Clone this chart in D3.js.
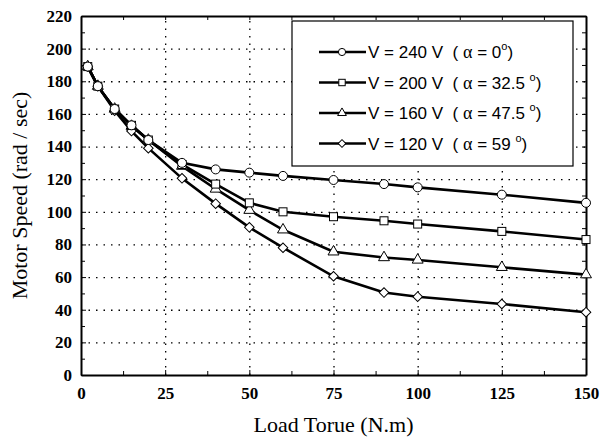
<!DOCTYPE html>
<html>
<head>
<meta charset="utf-8">
<script src="https://cdn.jsdelivr.net/npm/d3@7"></script>
<style>
  body { margin: 0; background: #fff; }
  svg { display: block; }
</style>
</head>
<body>
<svg id="chart"></svg>
<script>
// Load torque (N.m)
const torque = [2, 5, 10, 15, 20, 30, 40, 50, 60, 75, 90, 100, 125, 150];

// Motor speed (rad/sec) for each supply voltage
const speed240 = [189, 177, 163, 153, 144, 130, 126, 124, 122, 119.5, 117, 115, 110.5, 105.5];
const speed200 = [189, 177, 163, 153, 144, 129, 117, 105.5, 100, 97, 94.5, 92.5, 88, 83];
const speed160 = [189, 177, 163, 152.5, 144, 128, 114, 101, 89, 75.5, 72, 70.5, 66, 61.5];
const speed120 = [189, 177, 162, 149.5, 139, 120.5, 105, 90.5, 78, 60.5, 50.5, 48, 43.5, 38.5];

const voltLabels = ["V = 240 V", "V = 200 V", "V = 160 V", "V = 120 V"];
const alphaLabels = ["0", "32.5 ", "47.5 ", "59 "];

const xTicks = [0, 25, 50, 75, 100, 125, 150];
const yTicks = [0, 20, 40, 60, 80, 100, 120, 140, 160, 180, 200, 220];

const width = 600, height = 438;
const margin = { top: 16, right: 14, bottom: 63, left: 81 };
const w = width - margin.left - margin.right;
const h = height - margin.top - margin.bottom;

const svg = d3.select("#chart").attr("width", width).attr("height", height);
const chart = svg.append("g").attr("transform", `translate(${margin.left},${margin.top})`);

const x = d3.scaleLinear().domain([0, 150]).range([0, w]);
const y = d3.scaleLinear().domain([0, 220]).range([h, 0]);

const series = [
  { values: speed240, shape: "circle" },
  { values: speed200, shape: "square" },
  { values: speed160, shape: "triangle" },
  { values: speed120, shape: "diamond" }
].map((s, i) => ({ ...s, volt: voltLabels[i], alpha: alphaLabels[i] }));

// dotted grid
chart.append("g")
  .attr("transform", `translate(0,${h})`)
  .call(d3.axisBottom(x).tickValues(xTicks.slice(1, -1)).tickSize(-h).tickFormat(""))
  .call(g => g.select(".domain").remove())
  .selectAll("line").attr("stroke", "#000").attr("stroke-width", 1.3).attr("stroke-dasharray", "1.5,6");

chart.append("g")
  .call(d3.axisLeft(y).tickValues(yTicks.slice(1, -1)).tickSize(-w).tickFormat(""))
  .call(g => g.select(".domain").remove())
  .selectAll("line").attr("stroke", "#000").attr("stroke-width", 1.3).attr("stroke-dasharray", "1.5,6");

// frame axes with inward ticks
const tickFont = g => g.selectAll("text")
  .attr("font-family", "'Liberation Serif', 'Times New Roman', serif")
  .attr("font-weight", "bold").attr("font-size", 17).attr("fill", "#000");

const xMinor = d3.range(12.5, 150, 25);
const yMinor = d3.range(10, 220, 20);

chart.append("g").attr("transform", `translate(0,${h})`)
  .call(d3.axisBottom(x).tickValues(xTicks).tickSizeInner(-5).tickSizeOuter(0).tickPadding(12))
  .call(tickFont);
chart.append("g").attr("transform", `translate(0,${h})`)
  .call(d3.axisBottom(x).tickValues(xMinor).tickSize(-4).tickFormat(""))
  .call(g => g.select(".domain").remove());

chart.append("g")
  .call(d3.axisLeft(y).tickValues(yTicks).tickSizeInner(-5).tickSizeOuter(0).tickPadding(9))
  .call(tickFont);
chart.append("g")
  .call(d3.axisLeft(y).tickValues(yMinor).tickSize(-4).tickFormat(""))
  .call(g => g.select(".domain").remove());

chart.append("g")
  .call(d3.axisTop(x).tickValues(xTicks.concat(xMinor)).tickSizeInner(-4).tickSizeOuter(0).tickFormat(""));
chart.append("g").attr("transform", `translate(${w},0)`)
  .call(d3.axisRight(y).tickValues(yTicks.concat(yMinor)).tickSizeInner(-4).tickSizeOuter(0).tickFormat(""));

chart.selectAll(".domain").attr("stroke-width", 2);

// axis titles
svg.append("text")
  .attr("x", margin.left + w / 2).attr("y", 432)
  .attr("text-anchor", "middle")
  .attr("font-family", "'Liberation Serif', 'Times New Roman', serif")
  .attr("font-size", 22)
  .text("Load Torue (N.m)");

svg.append("text")
  .attr("transform", `translate(27,${margin.top + h / 2}) rotate(-90)`)
  .attr("text-anchor", "middle")
  .attr("font-family", "'Liberation Serif', 'Times New Roman', serif")
  .attr("font-size", 22)
  .text("Motor Speed (rad / sec)");

// markers
function marker(sel, shape, scale) {
  const k = scale || 1;
  if (shape === "circle") {
    sel.append("circle").attr("r", 4.5 * k);
  } else if (shape === "square") {
    sel.append("rect").attr("x", -4 * k).attr("y", -4 * k).attr("width", 8 * k).attr("height", 8 * k);
  } else if (shape === "triangle") {
    sel.append("path").attr("d", d3.symbol(d3.symbolTriangle, 52 * k * k)());
  } else {
    sel.append("path").attr("d", d3.symbol(d3.symbolSquare, 46 * k * k)()).attr("transform", "rotate(45)");
  }
  sel.selectAll("*").attr("fill", "#fff").attr("stroke", "#000").attr("stroke-width", 1);
}

const line = d3.line().x((d, i) => x(torque[i])).y(d => y(d));

const order = [3, 2, 1, 0];
order.forEach(i => {
  chart.append("path").datum(series[i].values)
    .attr("d", line).attr("fill", "none").attr("stroke", "#000").attr("stroke-width", 2.6);
});
order.forEach(i => {
  const s = series[i];
  chart.append("g").selectAll("g").data(s.values).join("g")
    .attr("transform", (d, j) => `translate(${x(torque[j])},${y(d)})`)
    .each(function () { marker(d3.select(this), s.shape); });
});

// legend
const legend = svg.append("g").attr("transform", "translate(292,21)");
legend.append("rect").attr("width", 281).attr("height", 145)
  .attr("fill", "#fff").attr("stroke", "#000").attr("stroke-width", 1.2);

series.forEach((s, i) => {
  const row = legend.append("g").attr("transform", `translate(0,${31 + i * 30.5})`);
  row.append("line").attr("x1", 27).attr("x2", 74).attr("stroke", "#000").attr("stroke-width", 2.6);
  marker(row.append("g").attr("transform", "translate(50,0)"), s.shape, 0.8);
  const t = row.append("text").attr("x", 76).attr("y", 6)
    .attr("font-family", "'Liberation Sans', Arial, sans-serif")
    .attr("font-size", 17).style("white-space", "pre");
  t.append("tspan").text(s.volt + "  ( ");
  t.append("tspan").attr("font-family", "'Liberation Serif', serif").attr("font-size", 18).text("α");
  t.append("tspan").text(" = " + s.alpha);
  t.append("tspan").attr("font-size", 11).attr("dy", -8).text("o");
  t.append("tspan").attr("dy", 8).text(")");
});
</script>
</body>
</html>
